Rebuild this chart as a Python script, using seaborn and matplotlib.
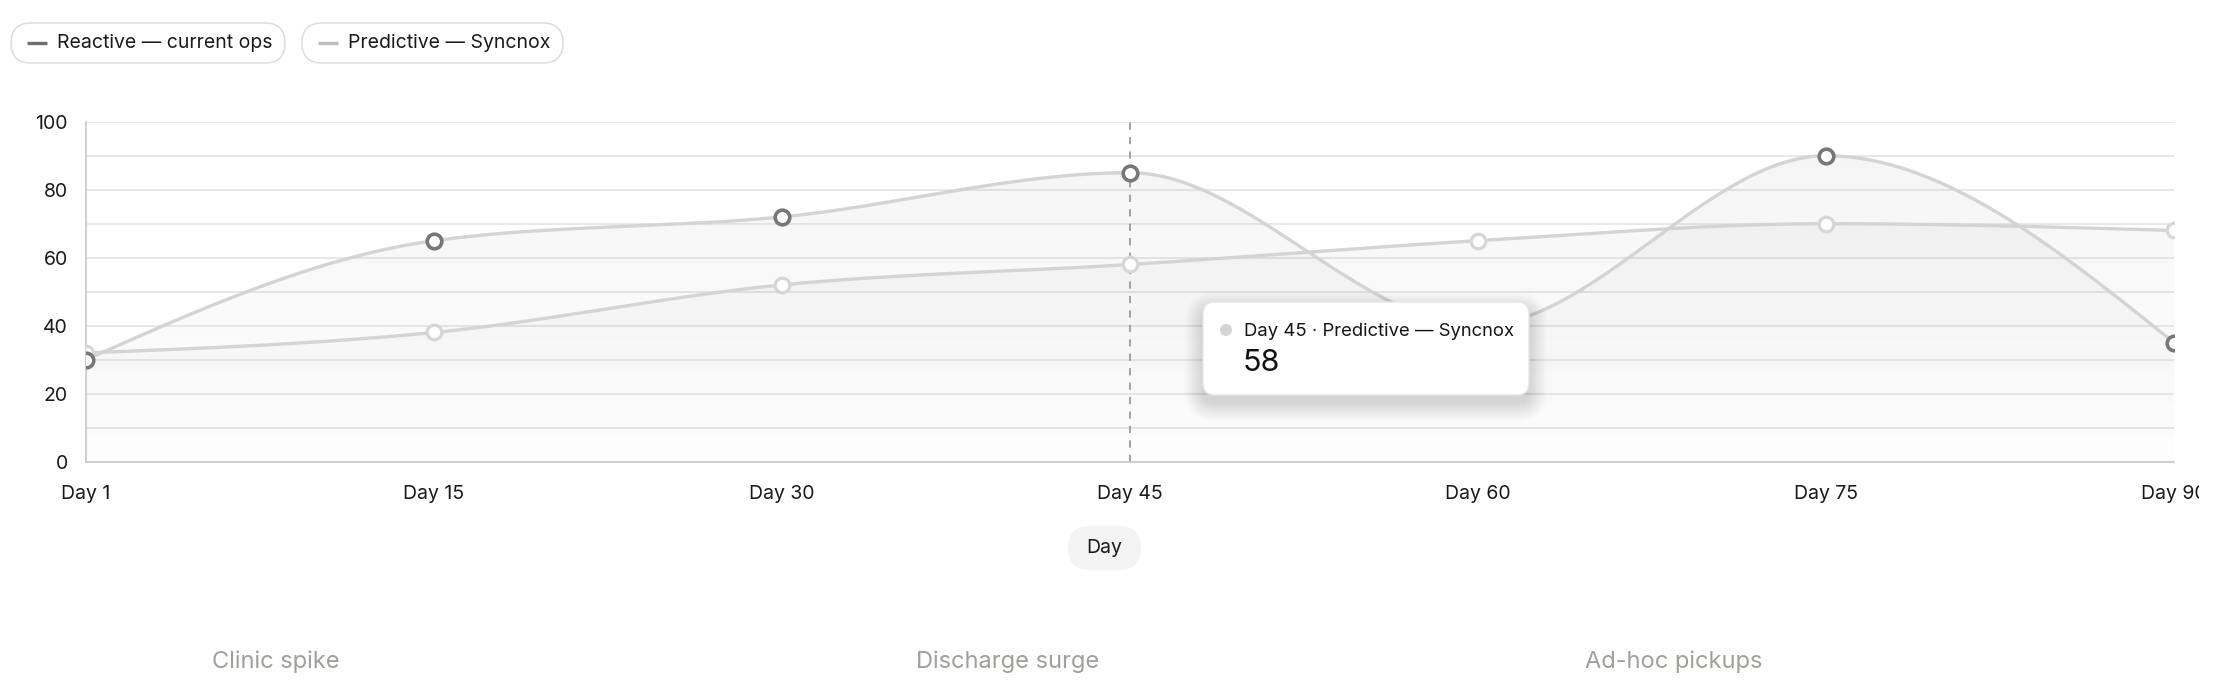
import numpy as np
import pandas as pd
import matplotlib
matplotlib.use("Agg")
import matplotlib.pyplot as plt
import seaborn as sns
from matplotlib.patches import FancyBboxPatch, Polygon, Circle
from matplotlib.colors import LinearSegmentedColormap
from matplotlib.transforms import Bbox, TransformedBbox

# Data
days = ["Day 1", "Day 15", "Day 30", "Day 45", "Day 60", "Day 75", "Day 90"]
reactive = [30, 65, 72, 85, 40, 90, 35]
predictive = [32, 38, 52, 58, 65, 70, 68]
series_names = ["Reactive — current ops", "Predictive — Syncnox"]
notes = ["Clinic spike", "Discharge surge", "Ad-hoc pickups"]
tooltip_day = "Day 45"
tooltip_value = 58

# Style
sns.set_theme(style="white")
plt.rcParams["font.family"] = ["Inter", "DejaVu Sans"]

line_color = "#d4d4d4"
grid_color = "#e6e6e6"
text_color = "#1a1a1a"


def monotone_curve(ys, n=60):
    # d3 curveMonotoneX style smoothing between the data points
    y = np.array(ys, dtype=float)
    x = np.arange(len(y), dtype=float)
    s = np.diff(y) / np.diff(x)
    t = np.zeros(len(y))
    for i in range(1, len(y) - 1):
        h0 = x[i] - x[i - 1]
        h1 = x[i + 1] - x[i]
        p = (s[i - 1] * h1 + s[i] * h0) / (h0 + h1)
        t[i] = (np.sign(s[i - 1]) + np.sign(s[i])) * min(abs(s[i - 1]), abs(s[i]), 0.5 * abs(p))
    t[0] = (3 * s[0] - t[1]) / 2
    t[-1] = (3 * s[-1] - t[-2]) / 2
    xs, out = [], []
    for i in range(len(y) - 1):
        u = np.linspace(0, 1, n, endpoint=(i == len(y) - 2))
        h = x[i + 1] - x[i]
        h00 = 2 * u**3 - 3 * u**2 + 1
        h10 = u**3 - 2 * u**2 + u
        h01 = -2 * u**3 + 3 * u**2
        h11 = u**3 - u**2
        out.append(h00 * y[i] + h10 * h * t[i] + h01 * y[i + 1] + h11 * h * t[i + 1])
        xs.append(x[i] + u * h)
    return np.concatenate(xs), np.concatenate(out)


fig = plt.figure(figsize=(22.32, 6.96), dpi=100)
ax = fig.add_axes([86 / 2232, 1 - 461.7 / 696, (2174 - 86) / 2232, (461.7 - 121.7) / 696])

# Gradient area fills
grad = np.linspace(0, 1, 256).reshape(-1, 1)
cmap = LinearSegmentedColormap.from_list(
    "fade", [(0.55, 0.55, 0.55, 0.005), (0.55, 0.55, 0.55, 0.09)]
)
for vals in [reactive, predictive]:
    cx, cy = monotone_curve(vals)
    verts = np.column_stack([np.r_[cx, cx[-1], cx[0]], np.r_[cy, 0, 0]])
    poly = Polygon(verts, closed=True, facecolor="none", edgecolor="none")
    ax.add_patch(poly)
    im = ax.imshow(grad, extent=(0, 6, 0, 100), origin="lower", aspect="auto",
                   cmap=cmap, zorder=1)
    im.set_clip_path(poly)

# Smooth lines
for vals in [predictive, reactive]:
    cx, cy = monotone_curve(vals)
    curve = pd.DataFrame({"x": cx, "y": cy})
    sns.lineplot(data=curve, x="x", y="y", ax=ax, color=line_color,
                 linewidth=2.4, sort=False, zorder=3)

# Hover guide
ax.axvline(3, color="#9a9a9a", linestyle=(0, (4, 4)), linewidth=1.3, zorder=2)

# Markers
pts = pd.DataFrame({"x": np.arange(len(days)), "reactive": reactive, "predictive": predictive})
sns.scatterplot(data=pts, x="x", y="predictive", ax=ax, s=110, color="white",
                edgecolor="#d6d6d6", linewidth=2.3, zorder=5)
sns.scatterplot(data=pts, x="x", y="reactive", ax=ax, s=110, color="white",
                edgecolor="#777777", linewidth=2.6, zorder=6)

ax.set_xlim(0, 6)
ax.set_ylim(0, 100)
ax.set_xticks(range(len(days)))
ax.set_xticklabels(days)
ax.set_yticks(range(0, 101, 20))
ax.set_yticks(range(10, 100, 20), minor=True)
ax.grid(True, which="both", axis="y", color=grid_color, linewidth=1.3, zorder=0)
ax.set_axisbelow(True)
ax.tick_params(axis="both", which="both", length=0, labelsize=14, colors=text_color)
ax.tick_params(axis="y", pad=13)
ax.tick_params(axis="x", pad=17)
ax.set_xlabel("")
ax.set_ylabel("")
for side in ["top", "right"]:
    ax.spines[side].set_visible(False)
for side in ["left", "bottom"]:
    ax.spines[side].set_color("#cccccc")
    ax.spines[side].set_linewidth(1.3)

# Last tick label is cut by the container edge
clip = TransformedBbox(Bbox([[0, 0], [2199 / 2232, 1]]), fig.transFigure)
for lbl in ax.get_xticklabels():
    lbl.set_clip_box(clip)
    lbl.set_clip_on(True)

# Overlay in pixel coordinates for legend pills, tooltip and notes
ov = fig.add_axes([0, 0, 1, 1], zorder=10)
ov.set_xlim(0, 2232)
ov.set_ylim(696, 0)
ov.axis("off")
ov.patch.set_alpha(0)

# Legend pills
legend_items = [
    (11, 285, "#6f6f6f", series_names[0]),
    (302, 563, "#bdbdbd", series_names[1]),
]
for x0, x1, col, name in legend_items:
    ov.add_patch(FancyBboxPatch((x0, 23), x1 - x0, 40,
                                boxstyle="round,pad=0,rounding_size=20",
                                facecolor="white", edgecolor="#dcdcdc", linewidth=1.1))
    ov.plot([x0 + 16, x0 + 36], [43, 43], color=col, linewidth=2.4, solid_capstyle="butt")
    ov.text(x0 + 46, 43.5, name, fontsize=14, color=text_color, va="center", ha="left")

# Axis title pill
ov.add_patch(FancyBboxPatch((1068, 526), 73, 44,
                            boxstyle="round,pad=0,rounding_size=22",
                            facecolor="#f3f3f3", edgecolor="none"))
ov.text(1104.5, 548, "Day", fontsize=14, color=text_color, va="center", ha="center")

# Tooltip with soft shadow
bx, by, bw, bh = 1203, 302, 326, 93
for i in range(18, 0, -1):
    ov.add_patch(FancyBboxPatch((bx - i, by + 8 - i), bw + 2 * i, bh + 2 * i,
                                boxstyle=f"round,pad=0,rounding_size={12 + i}",
                                facecolor="#000000", edgecolor="none", alpha=0.008))
ov.add_patch(FancyBboxPatch((bx, by), bw, bh, boxstyle="round,pad=0,rounding_size=12",
                            facecolor="white", edgecolor="#e6e6e6", linewidth=1.0))
ov.add_patch(Circle((1226, 330), 6, facecolor="#d4d4d4", edgecolor="none"))
ov.text(1244, 331, f"{tooltip_day} · {series_names[1]}", fontsize=13.3,
        color="#151515", va="center", ha="left")
ov.text(1243, 363, str(tooltip_value), fontsize=22, color="#111111",
        va="center", ha="left")

# Notes under the chart
for xc, note in zip([276, 1008, 1674], notes):
    ov.text(xc, 662, note, fontsize=17, color="#a09f9a", va="center", ha="center")

plt.savefig("out.png", dpi=100)
plt.close()
